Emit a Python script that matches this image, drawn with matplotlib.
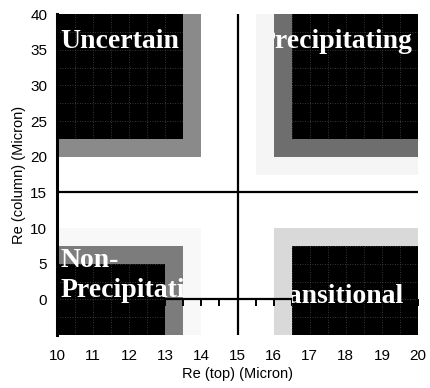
import numpy as np
import matplotlib
matplotlib.use("Agg")
import matplotlib.pyplot as plt
from matplotlib.patches import Rectangle

# Regime boxes in (Re top, Re column) space
regimes = ["Uncertain", "Precipitating", "Non-\nPrecipitating", "Transitional"]

# black core of each regime: x0, x1, y0, y1
core_x0 = [10.0, 16.5, 10.0, 16.5]
core_x1 = [13.5, 20.0, 13.0, 20.0]
core_y0 = [22.5, 22.5, -5.0, -5.0]
core_y1 = [40.0, 40.0, 5.0, 7.5]

# darker stippled fringe (one per regime, None where absent)
fringe_x0 = [10.0, 16.0, 10.0, None]
fringe_x1 = [14.0, 20.0, 13.5, None]
fringe_y0 = [20.0, 20.0, -5.0, None]
fringe_y1 = [40.0, 40.0, 7.5, None]
fringe_gray = ["#8a8a8a", "#6e6e6e", "#7c7c7c", None]

# faint outer fringe
haze_x0 = [15.5, 10.0, 16.0]
haze_x1 = [20.0, 14.0, 20.0]
haze_y0 = [17.5, -5.0, -5.0]
haze_y1 = [40.0, 10.0, 10.0]
haze_gray = ["#f5f5f5", "#f8f8f8", "#d9d9d9"]

# label anchors
label_x = [10.1, 19.85, 10.1, 19.6]
label_y = [36.1, 36.1, 3.3, 0.4]
label_ha = ["left", "right", "left", "right"]

x_ticks = [10, 11, 12, 13, 14, 15, 16, 17, 18, 19, 20]
y_ticks = [0, 5, 10, 15, 20, 25, 30, 35, 40]
threshold_x = 15
threshold_y = 15
axis_ticks = np.arange(10, 20.01, 0.5)

plt.rcParams["font.family"] = ["Liberation Sans", "DejaVu Sans"]

fig = plt.figure(figsize=(4.30, 3.88), dpi=100)
ax = fig.add_axes([57 / 430, 1 - 335 / 388, (418 - 57) / 430, (335 - 14) / 388])
ax.set_xlim(10, 20)
ax.set_ylim(-5, 40)

for x0, x1, y0, y1, c in zip(haze_x0, haze_x1, haze_y0, haze_y1, haze_gray):
    ax.add_patch(Rectangle((x0, y0), x1 - x0, y1 - y0, facecolor=c,
                           edgecolor="none", zorder=1))
for x0, x1, y0, y1, c in zip(fringe_x0, fringe_x1, fringe_y0, fringe_y1, fringe_gray):
    if x0 is None:
        continue
    ax.add_patch(Rectangle((x0, y0), x1 - x0, y1 - y0, facecolor=c,
                           edgecolor="none", zorder=2))

# horizontal axis through zero with its tick marks
ax.plot(axis_ticks, np.zeros_like(axis_ticks), color="black", lw=1.6,
        marker=3, markersize=5, mew=1.4, zorder=2.5)

grid_x = np.arange(10.5, 20, 0.5)
grid_y = np.arange(-2.5, 40, 2.5)
for x0, x1, y0, y1 in zip(core_x0, core_x1, core_y0, core_y1):
    ax.add_patch(Rectangle((x0, y0), x1 - x0, y1 - y0, facecolor="black",
                           edgecolor="none", zorder=3))
    # dotted grid showing through the dark cores only
    clip = Rectangle((x0, y0), x1 - x0, y1 - y0, transform=ax.transData)
    for gx in grid_x:
        ln = ax.axvline(gx, color="#4a4a4a", lw=0.6, ls=(0, (1, 2)), zorder=3.5)
        ln.set_clip_path(clip)
    for gy in grid_y:
        ln = ax.axhline(gy, color="#4a4a4a", lw=0.6, ls=(0, (1, 2)), zorder=3.5)
        ln.set_clip_path(clip)

# regime thresholds
ax.axvline(threshold_x, color="black", lw=1.6, zorder=4)
ax.axhline(threshold_y, color="black", lw=1.6, zorder=4)

# white labels, visible only where the shading is dark
for i, (name, lx, ly, ha) in enumerate(zip(regimes, label_x, label_y, label_ha)):
    if fringe_x0[i] is not None:
        bx0, bx1, by0, by1 = fringe_x0[i], fringe_x1[i], fringe_y0[i], fringe_y1[i]
    else:
        bx0, bx1, by0, by1 = core_x0[i], core_x1[i], core_y0[i], core_y1[i]
    t = ax.text(lx, ly, name, ha=ha, va="center", color="white",
                fontsize=20, fontweight="bold", family=["Liberation Serif"],
                linespacing=1.25, zorder=5, clip_on=True)
    t.set_clip_path(Rectangle((bx0, by0), bx1 - bx0, by1 - by0,
                              transform=ax.transData))

for side in ["top", "right", "bottom"]:
    ax.spines[side].set_visible(False)
ax.spines["left"].set_linewidth(2.2)
ax.spines["left"].set_zorder(6)

ax.set_xticks(x_ticks)
ax.set_yticks(y_ticks)
ax.tick_params(length=0, labelsize=11, pad=7)
ax.tick_params(axis="x", pad=10)
ax.set_xlabel("Re (top) (Micron)", fontsize=10.5, labelpad=3)
ax.set_ylabel("Re (column) (Micron)", fontsize=10.5, labelpad=3)

fig.savefig("out.png", dpi=100)
